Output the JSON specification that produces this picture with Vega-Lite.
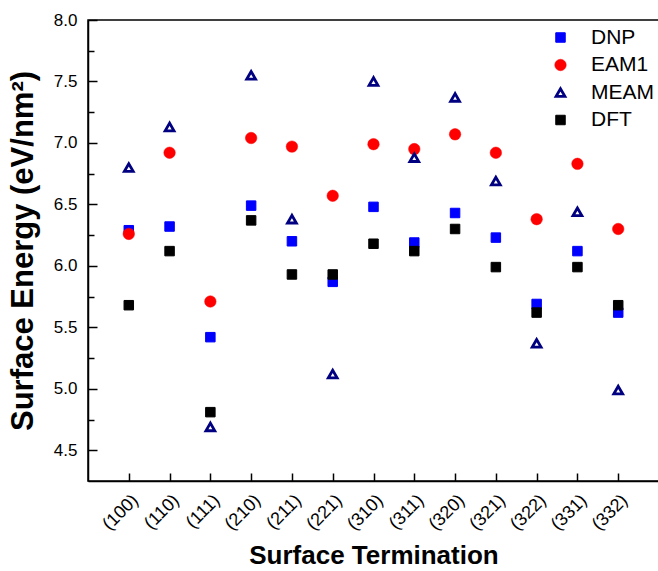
{
  "$schema": "https://vega.github.io/schema/vega-lite/v6.json",
  "width": 571,
  "height": 461,
  "autosize": "none",
  "padding": {"left": 88, "top": 20, "right": 0, "bottom": 90},
  "background": "white",
  "config": {
    "view": {"stroke": "black", "strokeWidth": 1.5},
    "font": "Liberation Sans"
  },
  "data": {
    "values": [
      {"surface": "(100)", "method": "DNP", "energy": 6.29},
      {"surface": "(110)", "method": "DNP", "energy": 6.32},
      {"surface": "(111)", "method": "DNP", "energy": 5.42},
      {"surface": "(210)", "method": "DNP", "energy": 6.49},
      {"surface": "(211)", "method": "DNP", "energy": 6.20},
      {"surface": "(221)", "method": "DNP", "energy": 5.87},
      {"surface": "(310)", "method": "DNP", "energy": 6.48},
      {"surface": "(311)", "method": "DNP", "energy": 6.19},
      {"surface": "(320)", "method": "DNP", "energy": 6.43},
      {"surface": "(321)", "method": "DNP", "energy": 6.23},
      {"surface": "(322)", "method": "DNP", "energy": 5.69},
      {"surface": "(331)", "method": "DNP", "energy": 6.12},
      {"surface": "(332)", "method": "DNP", "energy": 5.62},
      {"surface": "(100)", "method": "EAM1", "energy": 6.26},
      {"surface": "(110)", "method": "EAM1", "energy": 6.92},
      {"surface": "(111)", "method": "EAM1", "energy": 5.71},
      {"surface": "(210)", "method": "EAM1", "energy": 7.04},
      {"surface": "(211)", "method": "EAM1", "energy": 6.97},
      {"surface": "(221)", "method": "EAM1", "energy": 6.57},
      {"surface": "(310)", "method": "EAM1", "energy": 6.99},
      {"surface": "(311)", "method": "EAM1", "energy": 6.95},
      {"surface": "(320)", "method": "EAM1", "energy": 7.07},
      {"surface": "(321)", "method": "EAM1", "energy": 6.92},
      {"surface": "(322)", "method": "EAM1", "energy": 6.38},
      {"surface": "(331)", "method": "EAM1", "energy": 6.83},
      {"surface": "(332)", "method": "EAM1", "energy": 6.30},
      {"surface": "(100)", "method": "MEAM", "energy": 6.80},
      {"surface": "(110)", "method": "MEAM", "energy": 7.13},
      {"surface": "(111)", "method": "MEAM", "energy": 4.69},
      {"surface": "(210)", "method": "MEAM", "energy": 7.55},
      {"surface": "(211)", "method": "MEAM", "energy": 6.38},
      {"surface": "(221)", "method": "MEAM", "energy": 5.12},
      {"surface": "(310)", "method": "MEAM", "energy": 7.50},
      {"surface": "(311)", "method": "MEAM", "energy": 6.88},
      {"surface": "(320)", "method": "MEAM", "energy": 7.37},
      {"surface": "(321)", "method": "MEAM", "energy": 6.69},
      {"surface": "(322)", "method": "MEAM", "energy": 5.37},
      {"surface": "(331)", "method": "MEAM", "energy": 6.44},
      {"surface": "(332)", "method": "MEAM", "energy": 4.99},
      {"surface": "(100)", "method": "DFT", "energy": 5.68},
      {"surface": "(110)", "method": "DFT", "energy": 6.12},
      {"surface": "(111)", "method": "DFT", "energy": 4.81},
      {"surface": "(210)", "method": "DFT", "energy": 6.37},
      {"surface": "(211)", "method": "DFT", "energy": 5.93},
      {"surface": "(221)", "method": "DFT", "energy": 5.93},
      {"surface": "(310)", "method": "DFT", "energy": 6.18},
      {"surface": "(311)", "method": "DFT", "energy": 6.12},
      {"surface": "(320)", "method": "DFT", "energy": 6.30},
      {"surface": "(321)", "method": "DFT", "energy": 5.99},
      {"surface": "(322)", "method": "DFT", "energy": 5.62},
      {"surface": "(331)", "method": "DFT", "energy": 5.99},
      {"surface": "(332)", "method": "DFT", "energy": 5.68}
    ]
  },
  "mark": {"type": "point", "filled": false, "opacity": 1},
  "encoding": {
    "x": {
      "field": "surface",
      "type": "nominal",
      "sort": null,
      "scale": {"type": "point", "padding": 1},
      "axis": {
        "labelAngle": -45,
        "labelFontSize": 18,
        "labelColor": "black",
        "labelPadding": 18,
        "tickSize": -8,
        "tickColor": "black",
        "tickWidth": 1.5,
        "domainColor": "black",
        "domainWidth": 1.5,
        "grid": false,
        "title": "Surface Termination",
        "titleFontSize": 26,
        "titleFontWeight": "bold",
        "titleColor": "black",
        "titlePadding": 9
      }
    },
    "y": {
      "field": "energy",
      "type": "quantitative",
      "scale": {"domain": [4.25, 8], "nice": false, "zero": false},
      "axis": {
        "values": [4.5, 4.75, 5, 5.25, 5.5, 5.75, 6, 6.25, 6.5, 6.75, 7, 7.25, 7.5, 7.75, 8],
        "labelExpr": "datum.value % 0.5 === 0 ? format(datum.value, '.1f') : ''",
        "labelFontSize": 17,
        "labelColor": "black",
        "labelPadding": 20,
        "tickSize": {"condition": {"test": "datum.value % 0.5 === 0", "value": -9}, "value": -6},
        "tickColor": "black",
        "tickWidth": 1.5,
        "domainColor": "black",
        "domainWidth": 1.5,
        "grid": false,
        "title": "Surface Energy (eV/nm²)",
        "titleFontSize": 31,
        "titleFontWeight": "bold",
        "titleColor": "black",
        "titlePadding": 14
      }
    },
    "fill": {
      "field": "method",
      "type": "nominal",
      "scale": {"domain": ["DNP", "EAM1", "MEAM", "DFT"], "range": ["#0000FF", "#FF0000", "#FFFFFF", "#000000"]},
      "legend": {
        "orient": "none",
        "legendX": 462,
        "legendY": 7,
        "title": null,
        "padding": 0,
        "labelFontSize": 21,
        "labelColor": "black",
        "labelOffset": 20,
        "rowPadding": 5.5
      }
    },
    "stroke": {
      "field": "method",
      "type": "nominal",
      "scale": {"domain": ["DNP", "EAM1", "MEAM", "DFT"], "range": ["#0000FF", "#FF0000", "#000080", "#000000"]}
    },
    "shape": {
      "field": "method",
      "type": "nominal",
      "scale": {"domain": ["DNP", "EAM1", "MEAM", "DFT"], "range": ["square", "circle", "triangle-up", "square"]}
    },
    "size": {
      "field": "method",
      "type": "nominal",
      "scale": {"type": "ordinal", "domain": ["DNP", "EAM1", "MEAM", "DFT"], "range": [90, 132, 78, 90]}
    },
    "strokeWidth": {
      "field": "method",
      "type": "nominal",
      "scale": {"type": "ordinal", "domain": ["DNP", "EAM1", "MEAM", "DFT"], "range": [1, 0.5, 2.8, 1]}
    }
  }
}
